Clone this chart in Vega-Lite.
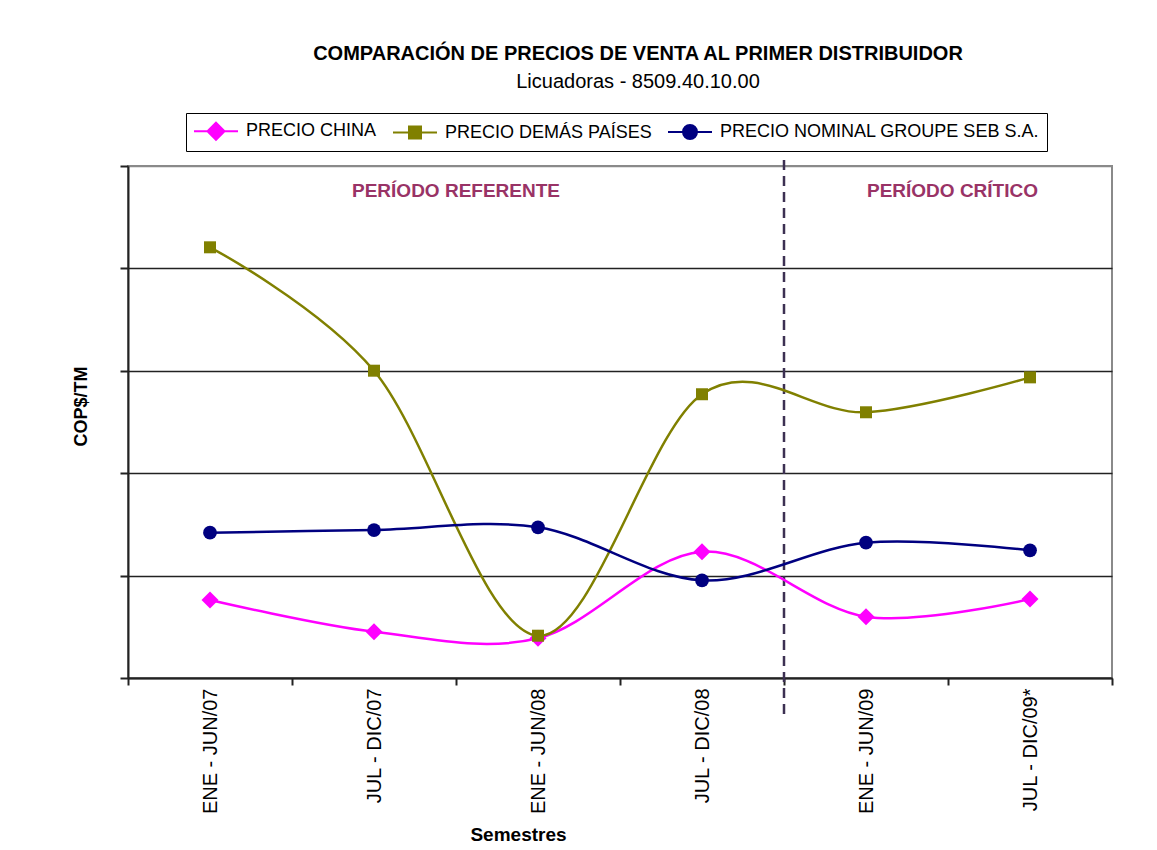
{
  "$schema": "https://vega.github.io/schema/vega-lite/v6.json",
  "width": 984,
  "height": 512,
  "autosize": {"type": "none"},
  "padding": {"left": 128, "top": 166, "right": 45, "bottom": 172},
  "background": "white",
  "config": {
    "font": "Liberation Sans",
    "view": {"stroke": "#8a8a8a", "strokeWidth": 2},
    "legend": {
      "orient": "none",
      "title": null,
      "direction": "horizontal",
      "legendX": 58,
      "legendY": -53,
      "padding": 7,
      "strokeColor": "black",
      "fillColor": "white",
      "labelFont": "Liberation Sans",
      "labelFontSize": 18,
      "labelColor": "black",
      "labelLimit": 500,
      "labelOffset": 19,
      "symbolOffset": 12,
      "columnPadding": 12,
      "symbolSize": 400,
      "symbolStrokeWidth": 2
    }
  },
  "title": {
    "text": "COMPARACIÓN DE PRECIOS DE VENTA AL PRIMER DISTRIBUIDOR",
    "subtitle": "Licuadoras - 8509.40.10.00",
    "anchor": "middle",
    "frame": "group",
    "dx": 18,
    "offset": 21,
    "font": "Liberation Sans",
    "fontSize": 20,
    "fontWeight": "bold",
    "color": "black",
    "subtitleFont": "Liberation Sans",
    "subtitleFontSize": 20,
    "subtitleColor": "black",
    "subtitlePadding": 8
  },
  "datasets": {
    "precios": [
      {"sem": "ENE - JUN/07", "serie": "PRECIO CHINA", "v": 0.762},
      {"sem": "JUL - DIC/07", "serie": "PRECIO CHINA", "v": 0.452},
      {"sem": "ENE - JUN/08", "serie": "PRECIO CHINA", "v": 0.388},
      {"sem": "JUL - DIC/08", "serie": "PRECIO CHINA", "v": 1.233},
      {"sem": "ENE - JUN/09", "serie": "PRECIO CHINA", "v": 0.599},
      {"sem": "JUL - DIC/09*", "serie": "PRECIO CHINA", "v": 0.771},
      {"sem": "ENE - JUN/07", "serie": "PRECIO DEMÁS PAÍSES", "v": 4.206},
      {"sem": "JUL - DIC/07", "serie": "PRECIO DEMÁS PAÍSES", "v": 3.001},
      {"sem": "ENE - JUN/08", "serie": "PRECIO DEMÁS PAÍSES", "v": 0.413},
      {"sem": "JUL - DIC/08", "serie": "PRECIO DEMÁS PAÍSES", "v": 2.771},
      {"sem": "ENE - JUN/09", "serie": "PRECIO DEMÁS PAÍSES", "v": 2.595},
      {"sem": "JUL - DIC/09*", "serie": "PRECIO DEMÁS PAÍSES", "v": 2.936},
      {"sem": "ENE - JUN/07", "serie": "PRECIO NOMINAL GROUPE SEB S.A.", "v": 1.419},
      {"sem": "JUL - DIC/07", "serie": "PRECIO NOMINAL GROUPE SEB S.A.", "v": 1.445},
      {"sem": "ENE - JUN/08", "serie": "PRECIO NOMINAL GROUPE SEB S.A.", "v": 1.472},
      {"sem": "JUL - DIC/08", "serie": "PRECIO NOMINAL GROUPE SEB S.A.", "v": 0.954},
      {"sem": "ENE - JUN/09", "serie": "PRECIO NOMINAL GROUPE SEB S.A.", "v": 1.321},
      {"sem": "JUL - DIC/09*", "serie": "PRECIO NOMINAL GROUPE SEB S.A.", "v": 1.247}
    ],
    "divisor": [
      {"sem": "ENE - JUN/09", "y1": -0.352, "y2": 5.088}
    ],
    "periodos": [
      {"sem": "ENE - JUN/08", "texto": "PERÍODO REFERENTE", "v": 4.7},
      {"sem": "ENE - JUN/09", "texto": "PERÍODO CRÍTICO", "v": 4.7}
    ]
  },
  "layer": [
    {
      "data": {"name": "divisor"},
      "mark": {"type": "rule", "color": "#3c3052", "strokeWidth": 2.5, "strokeDash": [10, 6]},
      "encoding": {
        "x": {
          "field": "sem", "type": "nominal", "bandPosition": 0, "sort": null,
          "scale": {"type": "band", "domain": ["ENE - JUN/07", "JUL - DIC/07", "ENE - JUN/08", "JUL - DIC/08", "ENE - JUN/09", "JUL - DIC/09*"], "paddingInner": 0, "paddingOuter": 0},
          "axis": {
            "title": "Semestres",
            "titleFont": "Liberation Sans",
            "titleFontSize": 19,
            "titleFontWeight": "bold",
            "titleColor": "black",
            "titleX": 390,
            "titleY": 162,
            "titleAlign": "center",
            "titleBaseline": "alphabetic",
            "labelAngle": 270,
            "labelAlign": "right",
            "labelBaseline": "middle",
            "labelFont": "Liberation Sans",
            "labelFontSize": 20,
            "labelColor": "black",
            "labelPadding": 3,
            "tickBand": "extent",
            "tickSize": 7,
            "tickWidth": 2,
            "tickColor": "#222",
            "domainColor": "#222",
            "domainWidth": 2,
            "grid": false
          }
        },
        "y": {
          "field": "y1", "type": "quantitative",
          "scale": {"domain": [0, 5], "nice": false, "zero": true},
          "axis": {
            "title": "COP$/TM",
            "titleFont": "Liberation Sans",
            "titleFontSize": 18,
            "titleFontWeight": "bold",
            "titleColor": "black",
            "titleAngle": 270,
            "titleX": -42,
            "titleY": 240,
            "titleAlign": "center",
            "titleBaseline": "alphabetic",
            "values": [0, 1, 2, 3, 4, 5],
            "labels": false,
            "tickSize": 8,
            "tickWidth": 2,
            "tickColor": "#222",
            "domainColor": "#222",
            "domainWidth": 2,
            "grid": true,
            "gridColor": {"condition": {"test": "datum.value == 5", "value": "#8a8a8a"}, "value": "#222"},
            "gridWidth": 1.5,
            "gridOpacity": 1
          }
        },
        "y2": {"field": "y2"}
      }
    },
    {
      "data": {"name": "precios"},
      "mark": {"type": "point", "filled": true, "strokeWidth": 2},
      "encoding": {
        "x": {"field": "sem", "type": "nominal", "sort": null, "scale": {"type": "band"}},
        "y": {"field": "v", "type": "quantitative"},
        "opacity": {"condition": {"test": "true", "value": 0}, "value": 1},
        "fill": {
          "field": "serie", "type": "nominal",
          "scale": {
            "domain": ["PRECIO CHINA", "PRECIO DEMÁS PAÍSES", "PRECIO NOMINAL GROUPE SEB S.A."],
            "range": ["#ff00ff", "#808000", "#000080"]
          },
          "legend": {"title": null}
        },
        "stroke": {
          "field": "serie", "type": "nominal",
          "scale": {
            "domain": ["PRECIO CHINA", "PRECIO DEMÁS PAÍSES", "PRECIO NOMINAL GROUPE SEB S.A."],
            "range": ["#ff00ff", "#808000", "#000080"]
          },
          "legend": {"title": null}
        },
        "shape": {
          "field": "serie", "type": "nominal",
          "scale": {
            "domain": ["PRECIO CHINA", "PRECIO DEMÁS PAÍSES", "PRECIO NOMINAL GROUPE SEB S.A."],
            "range": [
              "M-2.2,0H2.2M0,-0.85L0.85,0L0,0.85L-0.85,0Z",
              "M-2.2,0H2.2M-0.6,-0.6H0.6V0.6H-0.6Z",
              "M-2.2,0H2.2M-0.7,0A0.7,0.7,0,1,0,0.7,0A0.7,0.7,0,1,0,-0.7,0Z"
            ]
          },
          "legend": {"title": null}
        }
      }
    },
    {
      "data": {"name": "precios"},
      "encoding": {
        "x": {"field": "sem", "type": "nominal", "sort": null, "scale": {"type": "band"}},
        "y": {"field": "v", "type": "quantitative"},
        "color": {
          "field": "serie", "type": "nominal",
          "scale": {
            "domain": ["PRECIO CHINA", "PRECIO DEMÁS PAÍSES", "PRECIO NOMINAL GROUPE SEB S.A."],
            "range": ["#ff00ff", "#808000", "#000080"]
          },
          "legend": null
        }
      },
      "layer": [
        {"mark": {"type": "line", "interpolate": "cardinal", "strokeWidth": 2.5}},
        {
          "transform": [{"filter": "datum.serie === 'PRECIO CHINA'"}],
          "mark": {"type": "point", "filled": true, "opacity": 1, "shape": "diamond", "size": 290}
        },
        {
          "transform": [{"filter": "datum.serie === 'PRECIO DEMÁS PAÍSES'"}],
          "mark": {"type": "point", "filled": true, "opacity": 1, "shape": "square", "size": 144}
        },
        {
          "transform": [{"filter": "datum.serie === 'PRECIO NOMINAL GROUPE SEB S.A.'"}],
          "mark": {"type": "point", "filled": true, "opacity": 1, "shape": "circle", "size": 190}
        }
      ]
    },
    {
      "data": {"name": "periodos"},
      "transform": [{"filter": "datum.texto === 'PERÍODO REFERENTE'"}],
      "mark": {"type": "text", "font": "Liberation Sans", "fontSize": 19, "fontWeight": "bold", "color": "#993366", "align": "center", "baseline": "alphabetic"},
      "encoding": {
        "x": {"field": "sem", "type": "nominal", "bandPosition": 0, "sort": null, "scale": {"type": "band"}},
        "y": {"field": "v", "type": "quantitative"},
        "text": {"field": "texto"}
      }
    },
    {
      "data": {"name": "periodos"},
      "transform": [{"filter": "datum.texto === 'PERÍODO CRÍTICO'"}],
      "mark": {"type": "text", "font": "Liberation Sans", "fontSize": 19, "fontWeight": "bold", "color": "#993366", "align": "left", "baseline": "alphabetic", "dx": 1},
      "encoding": {
        "x": {"field": "sem", "type": "nominal", "sort": null, "scale": {"type": "band"}},
        "y": {"field": "v", "type": "quantitative"},
        "text": {"field": "texto"}
      }
    }
  ]
}
